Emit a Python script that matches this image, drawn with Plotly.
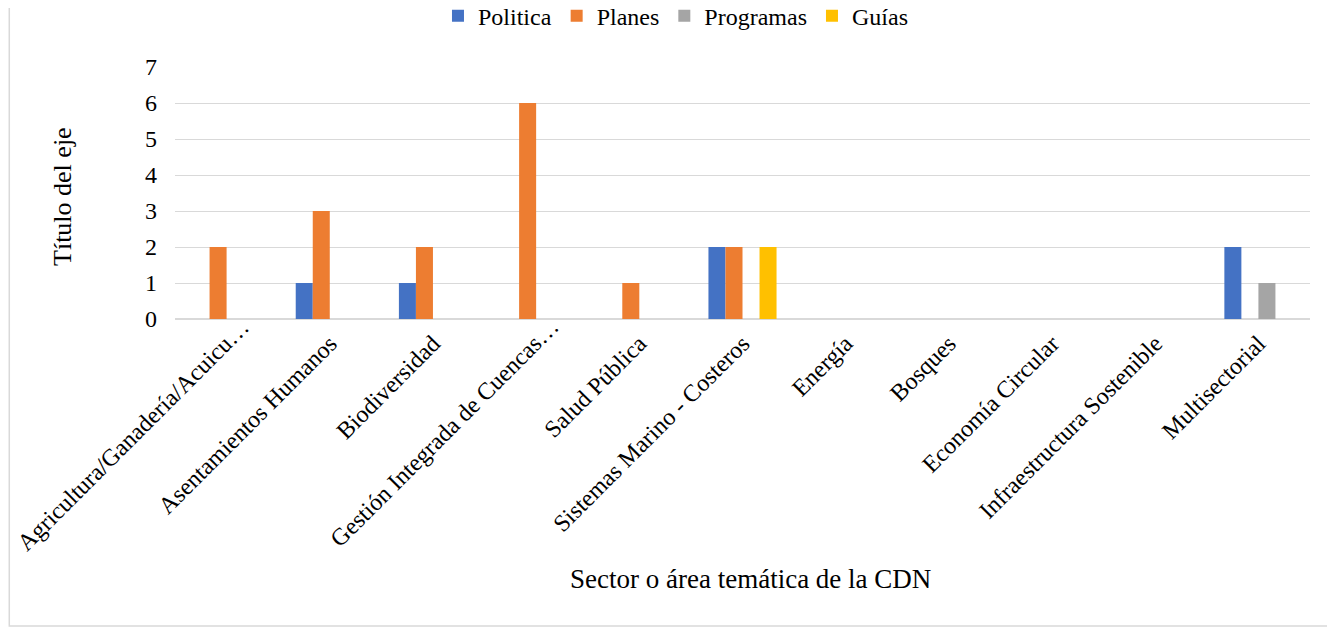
import plotly.graph_objects as go

categories = [
    "Agricultura/Ganadería/Acuicu…",
    "Asentamientos Humanos",
    "Biodiversidad",
    "Gestión Integrada de Cuencas…",
    "Salud Pública",
    "Sistemas Marino - Costeros",
    "Energía",
    "Bosques",
    "Economía Circular",
    "Infraestructura Sostenible",
    "Multisectorial",
]
politica = [None, 1, 1, None, None, 2, None, None, None, None, 2]
planes = [2, 3, 2, 6, 1, 2, None, None, None, None, None]
programas = [None, None, None, None, None, None, None, None, None, None, 1]
guias = [None, None, None, None, None, 2, None, None, None, None, None]

series = [
    ("Politica", politica, "#4472c4"),
    ("Planes", planes, "#ed7d31"),
    ("Programas", programas, "#a5a5a5"),
    ("Guías", guias, "#ffc000"),
]

font = "Liberation Serif, Times New Roman, serif"

# Excel places the truncated labels further along the text direction,
# so those two are drawn as annotations instead of tick labels
truncated = [c for c in categories if c.endswith("…")]
ticktext = ["" if c in truncated else c for c in categories]

fig = go.Figure()
for name, vals, color in series:
    fig.add_trace(go.Bar(name=name, x=categories, y=vals, marker_color=color,
                         marker_line_width=0))

annotations = [
    dict(text="Sector o área temática de la CDN", xref="paper", yref="paper",
         x=0.507, y=-1.03, xanchor="center", yanchor="middle",
         showarrow=False, font=dict(size=27)),
    dict(text="Título del eje", xref="paper", yref="paper", textangle=-90,
         x=-0.0996, y=0.488, xanchor="center", yanchor="middle",
         showarrow=False, font=dict(size=26)),
]
for c in truncated:
    annotations.append(dict(text=c, xref="x", yref="y", x=c, y=0, textangle=-45,
                            xanchor="right", yanchor="top", xshift=30, yshift=8,
                            showarrow=False, font=dict(size=24)))

# the page body adds an 8px offset, so the figure is 8px smaller
fig.update_layout(
    width=1327, height=619,
    paper_bgcolor="white", plot_bgcolor="white",
    barmode="group", bargap=0.34, bargroupgap=0,
    margin=dict(l=167, r=25, t=59, b=308, autoexpand=False),
    font=dict(family=font, size=24, color="#000000"),
    legend=dict(orientation="h", x=0.503, xanchor="center", xref="container",
                y=0.987, yanchor="middle", yref="container",
                font=dict(size=24), traceorder="normal"),
    xaxis=dict(tickangle=-45, showline=True, linecolor="#d9d9d9", ticks="",
               range=[-0.5, len(categories) - 0.5],
               tickmode="array", tickvals=categories, ticktext=ticktext,
               tickfont=dict(size=24), automargin=False),
    yaxis=dict(range=[0, 7], dtick=1, showgrid=True, gridcolor="#d9d9d9",
               zeroline=True, zerolinecolor="#d9d9d9", ticks="",
               tickfont=dict(size=24), automargin=False, ticklabelstandoff=17),
    annotations=annotations,
    shapes=[dict(type="rect", xref="paper", yref="paper",
                 x0=-0.146, x1=1.02, y0=-1.218, y1=1.3,
                 line=dict(color="#d9d9d9", width=1.5))],
)

fig.write_html("out.html")
